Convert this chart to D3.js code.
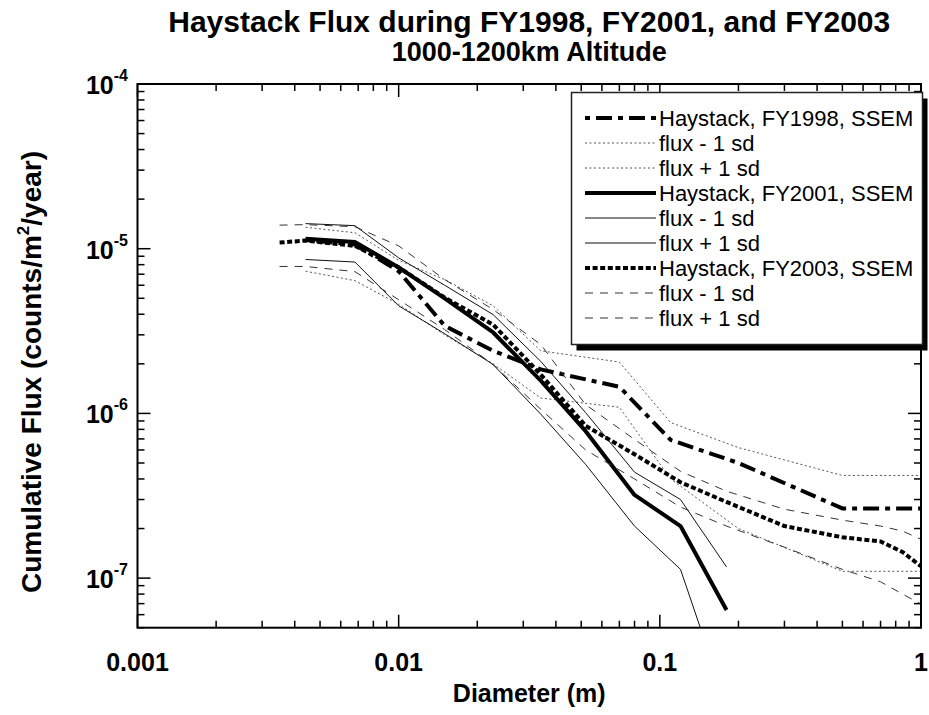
<!DOCTYPE html>
<html><head><meta charset="utf-8">
<script src="https://cdn.jsdelivr.net/npm/d3@7/dist/d3.min.js"></script>
<style>
html,body{margin:0;padding:0;background:#fff;}
svg{display:block;font-family:"Liberation Sans",Arial,sans-serif;}
</style></head>
<body>
<svg id="chart" width="929" height="715"></svg>
<script>
// ---- data ----
const titleLines = ["Haystack Flux during FY1998, FY2001, and FY2003", "1000-1200km Altitude"];
const xTickValues = [0.001, 0.01, 0.1, 1];
const xTickLabels = ["0.001", "0.01", "0.1", "1"];
const yTickValues = [1e-7, 1e-6, 1e-5, 1e-4];
const yTickExponents = ["-7", "-6", "-5", "-4"];

const diam1998 = [0.0044, 0.0068, 0.01, 0.015, 0.023, 0.035, 0.07, 0.11, 0.2, 0.5, 1.0];
const flux1998 = [1.13e-5, 1.06e-5, 7.3e-6, 3.4e-6, 2.4e-6, 1.85e-6, 1.45e-6, 6.9e-7, 5.0e-7, 2.65e-7, 2.65e-7];
const flux1998Lo = [7.3e-6, 6.4e-6, 4.6e-6, 3.0e-6, 2.0e-6, 1.24e-6, 1.09e-6, 4.0e-7, 2.0e-7, 1.1e-7, 1.1e-7];
const flux1998Hi = [1.35e-5, 1.25e-5, 8.5e-6, 6.5e-6, 4.5e-6, 2.4e-6, 2.05e-6, 8.8e-7, 6.2e-7, 4.2e-7, 4.2e-7];

const diam2001 = [0.0044, 0.0068, 0.01, 0.015, 0.023, 0.035, 0.052, 0.08, 0.12, 0.18];
const flux2001 = [1.15e-5, 1.1e-5, 7.7e-6, 5.0e-6, 3.1e-6, 1.58e-6, 7.8e-7, 3.2e-7, 2.07e-7, 6.4e-8];
const flux2001Lo = [8.6e-6, 8.3e-6, 4.5e-6, 3.05e-6, 1.98e-6, 9.9e-7, 4.9e-7, 2.07e-7, 1.13e-7, 1.7e-8];
const flux2001Hi = [1.42e-5, 1.38e-5, 8.8e-6, 6.0e-6, 3.98e-6, 2.07e-6, 1.01e-6, 4.4e-7, 3.0e-7, 1.17e-7];

const diam2003 = [0.0035, 0.0044, 0.0068, 0.01, 0.015, 0.023, 0.035, 0.052, 0.08, 0.12, 0.18, 0.3, 0.5, 0.7, 0.85, 1.0];
const flux2003 = [1.09e-5, 1.12e-5, 1.04e-5, 7.7e-6, 5.05e-6, 3.46e-6, 1.72e-6, 8.4e-7, 5.65e-7, 3.82e-7, 2.9e-7, 2.07e-7, 1.77e-7, 1.67e-7, 1.44e-7, 1.18e-7];
const flux2003Lo = [7.8e-6, 7.8e-6, 7.26e-6, 4.9e-6, 3.23e-6, 1.98e-6, 1.06e-6, 6.0e-7, 4.0e-7, 2.7e-7, 2.07e-7, 1.54e-7, 1.13e-7, 9.5e-8, 8.0e-8, 6.95e-8];
const flux2003Hi = [1.39e-5, 1.4e-5, 1.36e-5, 1.04e-5, 6.5e-6, 4.27e-6, 2.62e-6, 1.13e-6, 6.95e-7, 4.45e-7, 3.37e-7, 2.62e-7, 2.25e-7, 2.07e-7, 1.93e-7, 1.72e-7];

const legendLabels = ["Haystack, FY1998, SSEM", "flux - 1 sd", "flux + 1 sd",
  "Haystack, FY2001, SSEM", "flux - 1 sd", "flux + 1 sd",
  "Haystack, FY2003, SSEM", "flux - 1 sd", "flux + 1 sd"];

// ---- styles ----
const styleMain98 = {stroke:"#000", width:4, dash:"5,6,16,6"};
const styleSd98 = {stroke:"#555", width:1, dash:"2,2.5"};
const styleMain01 = {stroke:"#000", width:4, dash:null};
const styleSd01 = {stroke:"#111", width:1, dash:null};
const styleMain03 = {stroke:"#000", width:4, dash:"5,2.6"};
const styleSd03 = {stroke:"#333", width:1, dash:"8,7"};

const series = [
  {x:diam1998, y:flux1998, s:styleMain98},
  {x:diam1998, y:flux1998Lo, s:styleSd98},
  {x:diam1998, y:flux1998Hi, s:styleSd98},
  {x:diam2001, y:flux2001, s:styleMain01},
  {x:diam2001, y:flux2001Lo, s:styleSd01},
  {x:diam2001, y:flux2001Hi, s:styleSd01},
  {x:diam2003, y:flux2003, s:styleMain03},
  {x:diam2003, y:flux2003Lo, s:styleSd03},
  {x:diam2003, y:flux2003Hi, s:styleSd03}
];

const svg = d3.select("#chart");
const L = 137.5, R = 921, T = 84, B = 627.7;
const x = d3.scaleLog().domain([0.001, 1]).range([L, R]);
const y = d3.scaleLog().domain([5e-8, 1e-4]).range([B, T]);

svg.append("defs").append("clipPath").attr("id","plotclip")
  .append("rect").attr("x",L).attr("y",T).attr("width",R-L).attr("height",B-T);

// lines (drawn first, legend covers)
const line = d3.line().x(d=>x(d[0])).y(d=>y(d[1]));
const gLines = svg.append("g").attr("clip-path","url(#plotclip)");
series.forEach(sr => {
  const pts = sr.x.map((d,i)=>[d, sr.y[i]]);
  gLines.append("path").attr("d", line(pts))
    .attr("fill","none").attr("stroke", sr.s.stroke)
    .attr("stroke-width", sr.s.width)
    .attr("stroke-dasharray", sr.s.dash)
    .attr("stroke-linejoin","round");
});

// ticks (inward on all four sides)
const majorLen = 13, minorLen = 7;
const xMinor = [];
for (let e=-3; e<0; e++) for (let m=2; m<=9; m++) xMinor.push(m*Math.pow(10,e));
const yMinor = [];
for (let e=-8; e<-4; e++) for (let m=2; m<=9; m++) {
  const v = m*Math.pow(10,e);
  if (v >= 5e-8 && v < 1e-4) yMinor.push(v);
}
const gT = svg.append("g").attr("stroke","#000").attr("stroke-width",1.5);
xMinor.forEach(v => {
  gT.append("line").attr("x1",x(v)).attr("x2",x(v)).attr("y1",B).attr("y2",B-minorLen);
  gT.append("line").attr("x1",x(v)).attr("x2",x(v)).attr("y1",T).attr("y2",T+minorLen);
});
xTickValues.forEach(v => {
  gT.append("line").attr("x1",x(v)).attr("x2",x(v)).attr("y1",B).attr("y2",B-majorLen);
  gT.append("line").attr("x1",x(v)).attr("x2",x(v)).attr("y1",T).attr("y2",T+majorLen);
});
yMinor.forEach(v => {
  gT.append("line").attr("y1",y(v)).attr("y2",y(v)).attr("x1",L).attr("x2",L+minorLen);
  gT.append("line").attr("y1",y(v)).attr("y2",y(v)).attr("x1",R).attr("x2",R-minorLen);
});
yTickValues.forEach(v => {
  gT.append("line").attr("y1",y(v)).attr("y2",y(v)).attr("x1",L).attr("x2",L+majorLen);
  gT.append("line").attr("y1",y(v)).attr("y2",y(v)).attr("x1",R).attr("x2",R-majorLen);
});

// frame
svg.append("rect").attr("x",L).attr("y",T).attr("width",R-L).attr("height",B-T)
  .attr("fill","none").attr("stroke","#000").attr("stroke-width",2);

// tick labels
xTickValues.forEach((v,i) => {
  svg.append("text").attr("x",x(v)).attr("y",671).attr("text-anchor","middle")
    .attr("font-size",25).attr("font-weight","bold").text(xTickLabels[i]);
});
yTickValues.forEach((v,i) => {
  const t = svg.append("text").attr("x",128).attr("y",y(v)+10).attr("text-anchor","end")
    .attr("font-size",25).attr("font-weight","bold");
  t.append("tspan").text("10");
  t.append("tspan").attr("font-size",16).attr("dy",-13).text(yTickExponents[i]);
});

// axis titles
svg.append("text").attr("x",(L+R)/2).attr("y",702).attr("text-anchor","middle")
  .attr("font-size",25).attr("font-weight","bold").text("Diameter (m)");
const yl = svg.append("text").attr("transform",`translate(41,372) rotate(-90)`)
  .attr("text-anchor","middle").attr("font-size",28).attr("font-weight","bold");
yl.append("tspan").text("Cumulative Flux (counts/m");
yl.append("tspan").attr("font-size",17).attr("dy",-12).text("2");
yl.append("tspan").attr("dy",12).text("/year)");

// title
const titleSizes = [30, 27];
titleLines.forEach((t,i) => {
  svg.append("text").attr("x",(L+R)/2).attr("y",32+i*29).attr("text-anchor","middle")
    .attr("font-size",titleSizes[i]).attr("font-weight","bold").text(t);
});

// legend
const lgX = 571.5, lgY = 92.5, lgW = 351, lgH = 252;
svg.append("rect").attr("x",lgX+5).attr("y",lgY+6).attr("width",lgW).attr("height",lgH).attr("fill","#000");
svg.append("rect").attr("x",lgX).attr("y",lgY).attr("width",lgW).attr("height",lgH)
  .attr("fill","#fff").attr("stroke","#222").attr("stroke-width",1.5);
legendLabels.forEach((lab,i) => {
  const cy = 118 + i*25;
  const s = series[i].s;
  svg.append("line").attr("x1",585).attr("x2",656).attr("y1",cy).attr("y2",cy)
    .attr("stroke",s.stroke).attr("stroke-width",s.width).attr("stroke-dasharray",s.dash);
  svg.append("text").attr("x",659).attr("y",cy+8).attr("font-size",22).attr("fill","#000").text(lab);
});
</script>
</body></html>
